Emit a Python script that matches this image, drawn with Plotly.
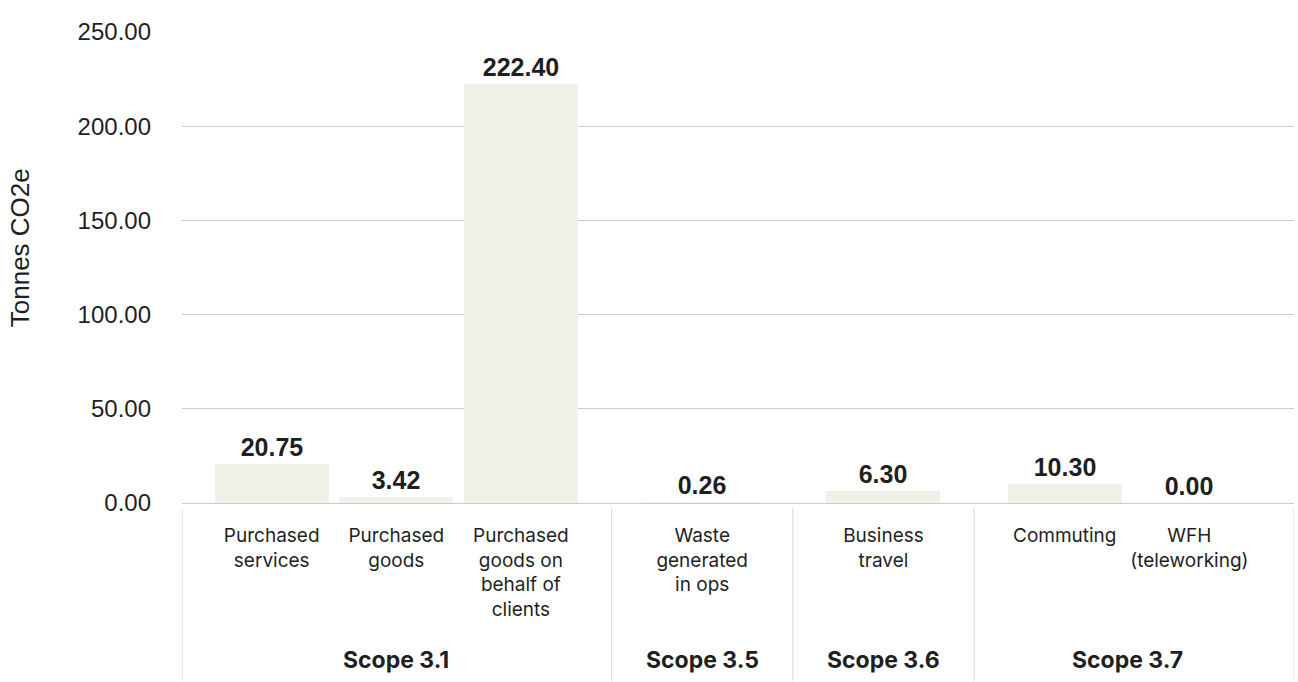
import plotly.graph_objects as go

# ---- data ----
groups = ["Scope 3.1", "Scope 3.5", "Scope 3.6", "Scope 3.7"]
categories = [
    ["Purchased<br>services", "Purchased<br>goods", "Purchased<br>goods on<br>behalf of<br>clients"],
    ["Waste<br>generated<br>in ops"],
    ["Business<br>travel"],
    ["Commuting", "WFH<br>(teleworking)"],
]
values = [
    [20.75, 3.42, 222.40],
    [0.26],
    [6.30],
    [10.30, 0.00],
]
y_ticks = [0, 50, 100, 150, 200, 250]

# ---- layout helpers (positions derived from the group structure) ----
GAP = 0.455         # extra space between groups, in category units
LEFT_PAD = 0.72
RIGHT_PAD = 0.84

xs, labels, ys, group_pos = [], [], [], []
idx = 0
for gi, (cats, vals) in enumerate(zip(categories, values)):
    gx = []
    for c, v in zip(cats, vals):
        p = idx + gi * GAP
        xs.append(p); labels.append(c); ys.append(v); gx.append(p)
        idx += 1
    group_pos.append(gx)

x_min = xs[0] - LEFT_PAD
x_max = xs[-1] + RIGHT_PAD
dividers = [x_min]
for a, b in zip(group_pos[:-1], group_pos[1:]):
    dividers.append((a[-1] + b[0]) / 2)
dividers.append(x_max)

TXT = "#1f1f1f"
fig = go.Figure()
fig.add_trace(go.Bar(
    x=xs, y=ys,
    width=0.915,
    marker=dict(color="#f1f0e9", line=dict(width=0)),
    text=ys,
    texttemplate="<b>%{y:.2f}</b>",
    textposition="outside",
    constraintext="none",
    cliponaxis=False,
    outsidetextfont=dict(family="Liberation Sans, Arial, sans-serif", size=25, color=TXT),
    hoverinfo="skip",
))

for gname, gx in zip(groups, group_pos):
    fig.add_annotation(
        x=sum(gx) / len(gx), y=-0.333, xref="x", yref="paper",
        text=f"<b>{gname}</b>", showarrow=False, yanchor="middle",
        font=dict(family="Inter, Liberation Sans, sans-serif", size=23, color=TXT),
    )

for d in dividers:
    fig.add_shape(type="line", xref="x", yref="paper", x0=d, x1=d, y0=-0.011, y1=-0.378,
                  line=dict(color="#dcdcdc", width=1.2))

fig.add_annotation(
    x=-0.1457, y=0.543, xref="paper", yref="paper", text="Tonnes CO2e",
    textangle=-90, showarrow=False, xanchor="center", yanchor="middle",
    font=dict(family="Liberation Sans, Arial, sans-serif", size=26, color=TXT),
)

fig.update_layout(
    width=1298, height=682,
    margin=dict(l=182, r=4, t=32, b=179),
    paper_bgcolor="white", plot_bgcolor="white",
    showlegend=False,
    bargap=0,
    xaxis=dict(
        range=[x_min, x_max], tickvals=xs, ticktext=labels,
        showgrid=False, zeroline=False, showline=False, ticks="",
        tickfont=dict(family="Inter, Liberation Sans, sans-serif", size=19, color=TXT),
        ticklabelstandoff=19, fixedrange=True,
    ),
    yaxis=dict(
        range=[0, 250], tickvals=y_ticks, tickformat=".2f",
        showgrid=True, gridcolor="#cbcbcb", gridwidth=1.2,
        zeroline=True, zerolinecolor="#cbcbcb", zerolinewidth=1.2,
        showline=False, ticks="", ticklabelstandoff=30,
        tickfont=dict(family="Liberation Sans, Arial, sans-serif", size=24, color=TXT),
        fixedrange=True,
    ),
)

fig.write_html("out.html", config={"displayModeBar": False})
